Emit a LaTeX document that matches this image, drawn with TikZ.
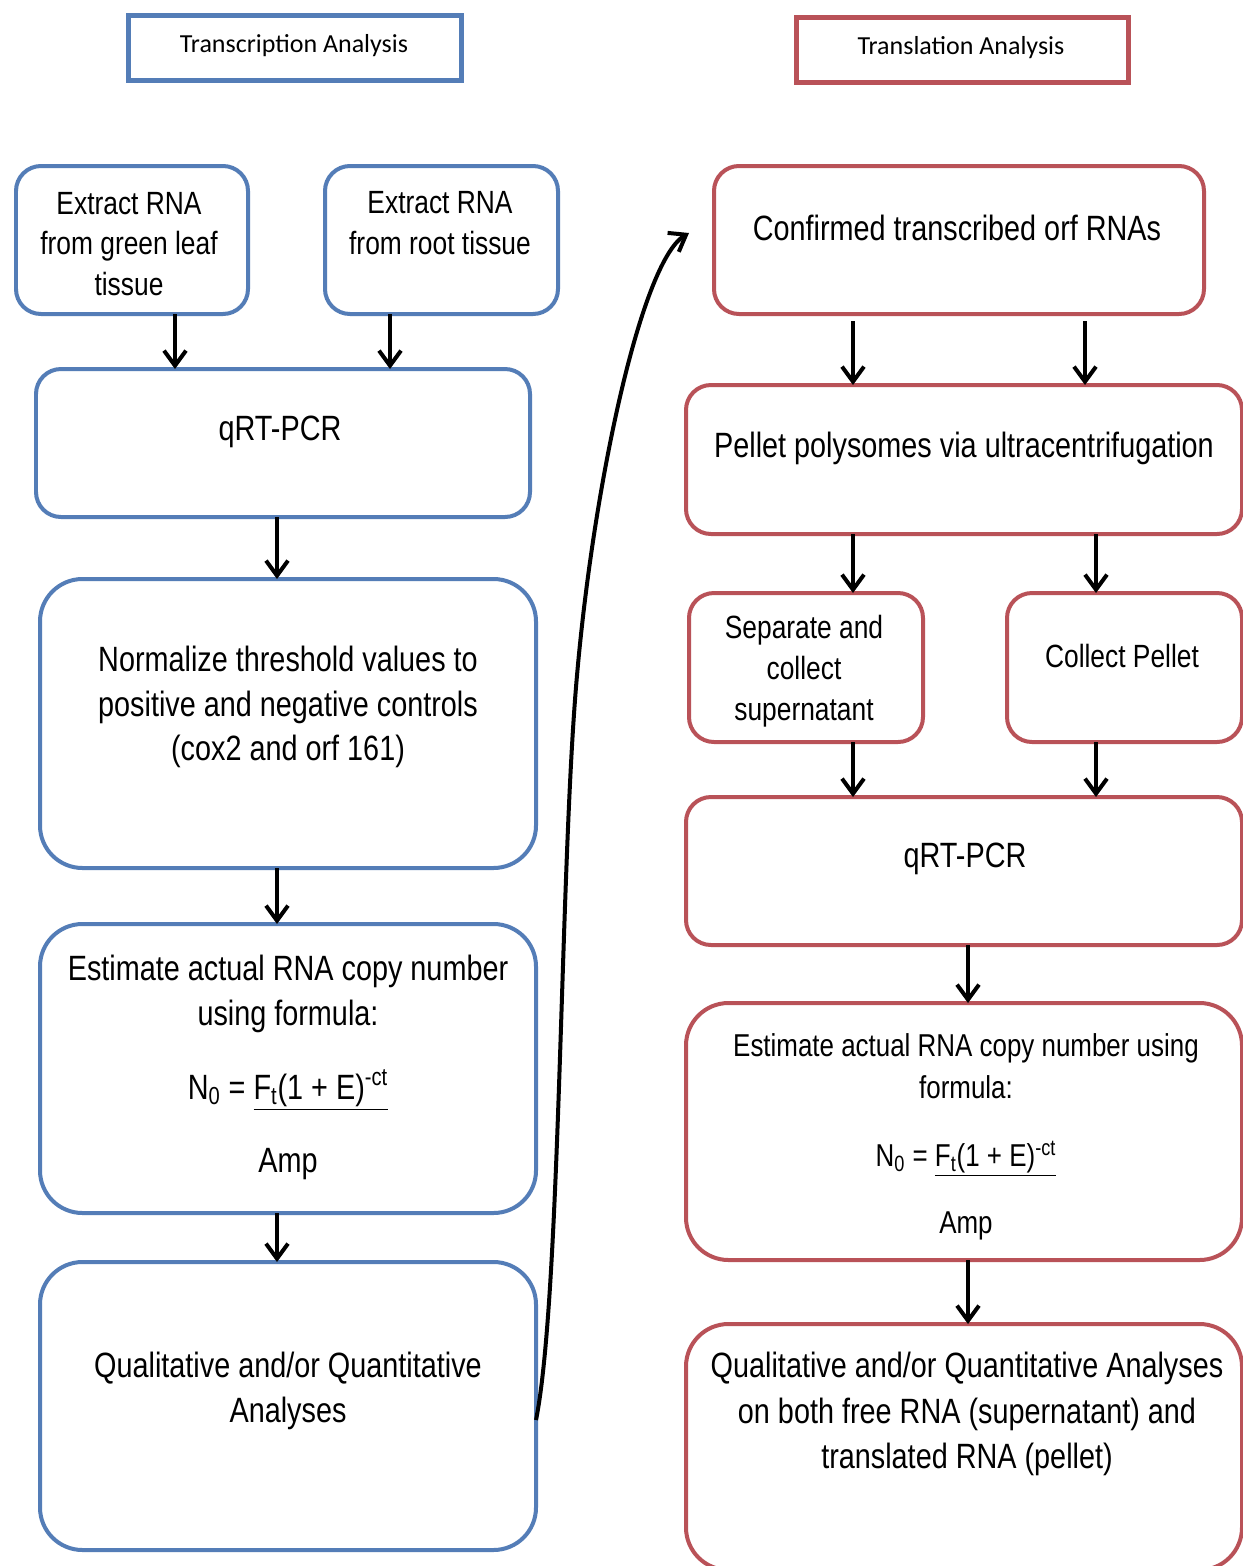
\documentclass[tikz,border=0pt]{standalone}
\usepackage{fontspec}
\setmainfont{Liberation Sans}
\newfontfamily\nar[FakeStretch=0.82]{Liberation Sans}
\newfontfamily\hdrfont{Carlito}
\usetikzlibrary{arrows.meta}
\definecolor{bblue}{RGB}{84,125,183}
\definecolor{rred}{RGB}{185,82,88}
\newcommand\mkbox[6]{\node[#6,minimum width={(#4-#2-4)*0.02cm},minimum height={(#5-#3-4)*0.02cm}] (#1) at ({(#2+#4)/2},{(#3+#5)/2}) {};}
\begin{document}
\begin{tikzpicture}[x=0.02cm,y=-0.02cm,
  base/.style={draw,line width=0.08cm,inner sep=0,outer sep=0},
  bl/.style={base,draw=bblue},
  rd/.style={base,draw=rred},
  sm/.style={rounded corners=0.5cm},
  lg/.style={rounded corners=0.85cm},
  hd/.style={base,line width=0.1cm},
  t20/.style={align=center,inner sep=0,font={\nar\fontsize{20pt}{25.5pt}\selectfont}},
  t18/.style={align=center,inner sep=0,font={\nar\fontsize{18.3pt}{23.2pt}\selectfont}},
  t18b/.style={align=center,inner sep=0,font={\nar\fontsize{18pt}{23.8pt}\selectfont}},
  t20b/.style={align=center,inner sep=0,font={\nar\fontsize{20pt}{26pt}\selectfont}},
  th/.style={inner sep=0,font={\hdrfont\fontsize{14.8pt}{18pt}\selectfont}},
  arr/.style={line width=0.08cm,-{Straight Barb[length=0.3cm,width=0.44cm]}}]
\useasboundingbox (0,0) rectangle (1243,1566);
\fill[white] (0,0) rectangle (1243,1566);
\clip (0,0) rectangle (1243,1566);
% headers
\mkbox{hL}{126}{13}{463}{82}{hd,draw=bblue}
\mkbox{hR}{794}{15}{1130}{84}{hd,draw=rred}
\node[th] (hLt) at (294,46) {Transcription Analysis};
\node[th] (hRt) at (961,48) {Translation Analysis};
% left column
\mkbox{green}{14}{164}{250}{316}{bl,sm}
\mkbox{root}{323}{164}{560}{316}{bl,sm}
\mkbox{qrtL}{34}{367}{532}{519}{bl,sm}
\mkbox{norm}{38}{577}{538}{870}{bl,lg}
\mkbox{estL}{38}{922}{538}{1215}{bl,lg}
\mkbox{qualL}{38}{1260}{538}{1552}{bl,lg}
\node[t18] (greent) at (129,244) {Extract RNA\\from green leaf\\tissue};
\node[t18] (roott) at (440,223) {Extract RNA\\from root tissue};
\node[t20] (qrtLt) at (280,432) {qRT-PCR};
\node[t20] (normt) at (288,707) {Normalize threshold values to\\positive and negative controls\\(cox2 and orf 161)};
\node[t20] (estLt) at (288,994) {Estimate actual RNA copy number\\using formula:};
\node[t20] (formL) at (288,1090) {N\textsubscript{0} = \underline{F\textsubscript{t}(1 + E)\textsuperscript{-ct}}};
\node[t20] (ampL) at (288,1164) {Amp};
\node[t20] (qualLt) at (288,1391) {Qualitative and/or Quantitative\\Analyses};
% right column
\mkbox{conf}{712}{164}{1206}{316}{rd,sm}
\mkbox{pel}{684}{383}{1244}{536}{rd,sm}
\mkbox{sep}{687}{591}{925}{744}{rd,sm}
\mkbox{col}{1005}{591}{1244}{744}{rd,sm}
\mkbox{qrtR}{684}{795}{1244}{947}{rd,sm}
\mkbox{estR}{684}{1001}{1244}{1262}{rd,lg}
\mkbox{qualR}{684}{1322}{1244}{1572}{rd,lg}
\node[t20] (conft) at (957,228) {Confirmed transcribed orf RNAs};
\node[t20] (pelt) at (964,448) {Pellet polysomes via ultracentrifugation};
\node[t18] (sept) at (804,671) {Separate and\\collect\\supernatant};
\node[t18] (colt) at (1122,656) {Collect Pellet};
\node[t20] (qrtRt) at (965,859) {qRT-PCR};
\node[t18b] (estRt) at (966,1066) {Estimate actual RNA copy number using\\formula:};
\node[t18b] (formR) at (966,1159) {N\textsubscript{0} = \underline{F\textsubscript{t}(1 + E)\textsuperscript{-ct}}};
\node[t18b] (ampR) at (966,1226) {Amp};
\node[t20b] (qualRt) at (967,1414) {Qualitative and/or Quantitative Analyses\\on both free RNA (supernatant) and\\translated RNA (pellet)};
% arrow x positions
\coordinate (xa) at (175,0);
\coordinate (xb) at (390,0);
\coordinate (xc) at (277,0);
\coordinate (xd) at (853,0);
\coordinate (xe) at (1085,0);
\coordinate (xf) at (1096,0);
\coordinate (xg) at (968,0);
% arrows
\draw[arr] (green.south -| xa) -- (qrtL.north -| xa);
\draw[arr] (root.south -| xb) -- (qrtL.north -| xb);
\draw[arr] (qrtL.south -| xc) -- (norm.north -| xc);
\draw[arr] (norm.south -| xc) -- (estL.north -| xc);
\draw[arr] (estL.south -| xc) -- (qualL.north -| xc);
\draw[arr] ([yshift=-0.14cm]conf.south -| xd) -- (pel.north -| xd);
\draw[arr] ([yshift=-0.14cm]conf.south -| xe) -- (pel.north -| xe);
\draw[arr] (pel.south -| xd) -- (sep.north -| xd);
\draw[arr] (pel.south -| xf) -- (col.north -| xf);
\draw[arr] (sep.south -| xd) -- (qrtR.north -| xd);
\draw[arr] (col.south -| xf) -- (qrtR.north -| xf);
\draw[arr] (qrtR.south -| xg) -- (estR.north -| xg);
\draw[arr] (estR.south -| xg) -- (qualR.north -| xg);
% curved connector
\coordinate (cs) at ([yshift=-0.28cm]qualL.east);
\coordinate (ce) at ([xshift=-0.5cm,yshift=0.14cm]conf.west);
\draw[arr] (cs) .. controls (560,1300) and (560,900) .. (575,700)
  .. controls (590,500) and (640,262) .. (ce);
\end{tikzpicture}
\end{document}
